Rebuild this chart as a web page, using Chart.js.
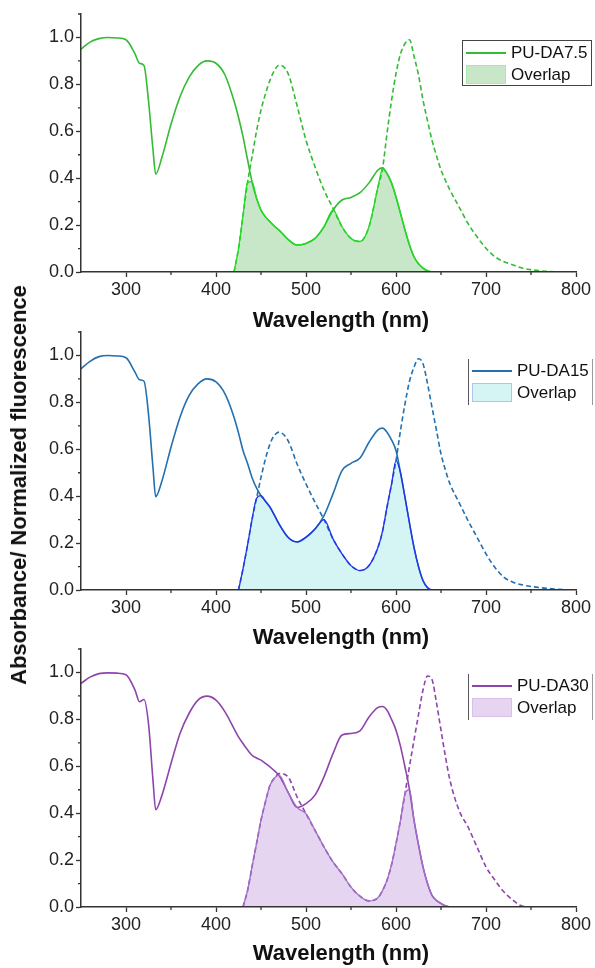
<!DOCTYPE html>
<html><head><meta charset="utf-8">
<script src="https://cdn.jsdelivr.net/npm/chart.js@4"></script>
<style>
body{margin:0;background:#fff;}
#wrap{position:relative;width:595px;height:968px;overflow:hidden;background:#fff;font-family:"Liberation Sans",Arial,sans-serif;}
canvas{position:absolute;left:0;}
.ytitle{position:absolute;left:19px;top:485px;transform:translate(-50%,-50%) rotate(-90deg);white-space:nowrap;font-weight:bold;font-size:22px;color:#111;}
.xtitle{position:absolute;left:341px;transform:translate(-50%,-50%);white-space:nowrap;font-weight:bold;font-size:22px;color:#111;}
.leg{position:absolute;left:462px;width:130px;height:46px;box-sizing:border-box;font-size:17px;color:#111;}
.leg .ln{position:absolute;left:3px;width:40px;height:0;border-top:2px solid;}
.leg .bx{position:absolute;left:3px;width:40px;height:19px;box-sizing:border-box;border:1px solid;}
.leg .t1{position:absolute;left:48px;top:2px;}
.leg .t2{position:absolute;left:48px;top:24px;}
</style></head>
<body><div id="wrap">
<canvas id="c1" width="595" height="332" style="top:0px"></canvas>
<canvas id="c2" width="595" height="332" style="top:318px"></canvas>
<canvas id="c3" width="595" height="332" style="top:635px"></canvas>
<div class="ytitle">Absorbance/ Normalized fluorescence</div>
</div>
<script>
const wavelengths = [250,260,270,280,290,300,310,315,320,325,330,333,340,350,360,370,380,390,400,410,
  420,425,430,435,440,445,450,455,460,465,470,480,490,500,510,520,530,540,550,560,570,580,585,590,595,
  600,605,610,615,620,625,630,635,640,645,650,655,660,670,680,690,700,710,720,730,740,750,760,770,780,790,800];

const absDA75 = [.95,.98,.995,1.0,.998,.99,.93,.89,.88,.73,.52,.417,.49,.63,.747,.83,.88,.90,.89,.84,
  .73,.66,.577,.48,.385,.315,.264,.235,.214,.195,.179,.139,.115,.122,.143,.193,.264,.307,.318,.338,.38,.435,.444,.42,.38,
  .32,.25,.179,.115,.065,.035,.017,.005,0,0,0,0,0,0,0,0,0,0,0,0,0,0,0,0,0,0,0];
const flDA75 = [null,null,null,null,null,null,null,null,null,null,null,null,null,null,null,null,null,null,null,null,
  0,.1,.24,.38,.49,.6,.69,.76,.818,.86,.882,.847,.71,.562,.449,.349,.272,.193,.143,.13,.193,.363,.44,.59,.73,
  .846,.93,.974,.99,.92,.84,.733,.645,.562,.495,.435,.39,.349,.278,.207,.15,.101,.065,.044,.03,.017,.01,.005,.002,.001,0,0];

const absDA15 = [.943,.975,.995,1.0,.998,.99,.929,.896,.89,.75,.52,.398,.466,.609,.737,.829,.879,.90,.887,.836,
  .737,.67,.595,.54,.48,.435,.402,.378,.353,.318,.282,.225,.205,.225,.26,.317,.41,.509,.54,.563,.63,.683,.69,.673,.64,
  .595,.50,.395,.285,.182,.10,.04,.01,0,0,0,0,0,0,0,0,0,0,0,0,0,0,0,0,0,0,0];
const flDA15 = [null,null,null,null,null,null,null,null,null,null,null,null,null,null,null,null,null,null,null,null,
  null,0,.09,.19,.3,.39,.48,.56,.623,.66,.673,.637,.538,.452,.374,.30,.218,.154,.104,.083,.104,.182,.25,.353,.45,
  .552,.68,.794,.89,.95,.986,.965,.88,.779,.68,.58,.51,.452,.374,.296,.225,.154,.096,.054,.033,.022,.015,.01,.006,.003,.001,0];

const absDA30 = [.953,.98,.995,.998,.997,.99,.925,.875,.885,.782,.54,.415,.477,.612,.74,.825,.882,.899,.882,.832,
  .761,.725,.697,.67,.647,.635,.626,.612,.597,.58,.562,.49,.425,.441,.477,.555,.654,.733,.74,.751,.81,.851,.855,.839,.80,
  .754,.685,.597,.50,.37,.265,.171,.10,.05,.028,.015,.005,0,0,0,0,0,0,0,0,0,0,0,0,0,0,0];
const flDA30 = [null,null,null,null,null,null,null,null,null,null,null,null,null,null,null,null,null,null,null,null,
  null,null,0,.07,.171,.27,.37,.45,.519,.55,.569,.555,.47,.398,.327,.256,.192,.142,.085,.046,.026,.04,.07,.114,.18,
  .27,.37,.484,.60,.711,.82,.925,.985,.97,.87,.754,.64,.54,.413,.341,.256,.171,.114,.064,.029,.004,0,null,null,null,null,null];

const seriesNames = ['PU-DA7.5','PU-DA15','PU-DA30'];
const overlapName = 'Overlap';
const xTitle = 'Wavelength (nm)';
const xTicks = [300,400,500,600,700,800];
const xMinorTicks = [350,450,550,650,750];
const yTicks = [0,0.2,0.4,0.6,0.8,1.0];
const yMinorTicks = [0.1,0.3,0.5,0.7,0.9,1.1];

const FONT = '"Liberation Sans", Arial, sans-serif';

const minorTicks = {
  id:'minorTicks',
  afterDraw(chart){
    const ctx = chart.ctx, xs = chart.scales.x, ys = chart.scales.y, a = chart.chartArea;
    ctx.save(); ctx.strokeStyle='#333'; ctx.lineWidth=1.3; ctx.beginPath();
    xMinorTicks.forEach(v=>{const p=xs.getPixelForValue(v); ctx.moveTo(p,a.bottom); ctx.lineTo(p,a.bottom+3);});
    yMinorTicks.forEach(v=>{const p=ys.getPixelForValue(v); ctx.moveTo(a.left,p); ctx.lineTo(a.left-3,p);});
    ctx.stroke(); ctx.restore();
  }
};

function pts(arr){ return wavelengths.map((x,i)=>({x:x, y:arr[i]})); }

function makeChart(id, abs, fl, color, fillColor, edgeColor){
  const overlap = abs.map((a,i)=> fl[i]==null ? null : Math.min(a, fl[i]));
  return new Chart(document.getElementById(id), {
    type:'line',
    data:{ datasets:[
      {data:pts(overlap), borderColor:edgeColor, backgroundColor:fillColor, fill:'origin', borderWidth:1.3, order:0},
      {data:pts(fl), borderColor:color, borderDash:[5,3], borderWidth:1.6, fill:false, order:1},
      {data:pts(abs), borderColor:color, borderWidth:1.6, fill:false, order:2}
    ]},
    options:{
      responsive:false, animation:false, events:[],
      plugins:{legend:{display:false}, tooltip:{enabled:false}, filler:{drawTime:'beforeDatasetsDraw'}},
      elements:{point:{radius:0}, line:{cubicInterpolationMode:'monotone'}},
      layout:{padding:{top:14,right:19,left:0,bottom:0}},
      scales:{
        x:{type:'linear', min:250, max:800,
          afterBuildTicks:s=>{s.ticks = xTicks.map(v=>({value:v}));},
          afterFit:s=>{s.height=60;},
          grid:{drawOnChartArea:false, drawTicks:true, tickLength:5, tickColor:'#333', tickWidth:1.3},
          border:{color:'#333', width:1.5, z:1},
          ticks:{font:{size:18, family:FONT}, color:'#222', padding:2, maxRotation:0, autoSkip:false}
        },
        y:{type:'linear', min:0, max:1.1,
          afterBuildTicks:s=>{s.ticks = yTicks.map(v=>({value:v}));},
          afterFit:s=>{s.width=81;},
          grid:{drawOnChartArea:false, drawTicks:true, tickLength:5, tickColor:'#333', tickWidth:1.3},
          border:{color:'#333', width:1.5, z:1},
          ticks:{font:{size:18, family:FONT}, color:'#222', padding:2, callback:v=>Number(v).toFixed(1)}
        }
      }
    },
    plugins:[minorTicks]
  });
}

makeChart('c1', absDA75, flDA75, '#33BB33', 'rgba(200,230,200,1)', '#22DD22');
makeChart('c2', absDA15, flDA15, '#2370B0', 'rgba(212,245,243,1)', '#2233EE');
makeChart('c3', absDA30, flDA30, '#8E44AD', 'rgba(230,213,240,1)', '#A070C8');

const wrap = document.getElementById('wrap');
// x-axis titles
[320, 637, 953].forEach(y=>{
  const t = document.createElement('div');
  t.className='xtitle'; t.style.top=y+'px'; t.textContent=xTitle;
  wrap.appendChild(t);
});
// legends
const legends = [
  {top:40, name:seriesNames[0], color:'#33BB33', fill:'rgb(200,230,200)', edge:'#A8E8A8', full:true},
  {top:359, name:seriesNames[1], color:'#2370B0', fill:'rgb(212,245,243)', edge:'#A8C8F0', full:false},
  {top:674, name:seriesNames[2], color:'#8E44AD', fill:'rgb(230,213,240)', edge:'#D8C0E8', full:false}
];
legends.forEach((L,i)=>{
  const d = document.createElement('div');
  d.className='leg';
  d.style.top = L.top+'px';
  if(L.full){ d.style.border='1px solid #444'; }
  else { d.style.left='468px'; d.style.width='125px'; d.style.borderLeft='1px solid #555'; d.style.borderRight='1px solid #999'; }
  d.innerHTML = '<div class="ln" style="top:11px;border-color:'+L.color+'"></div>'+
    '<div class="t1">'+L.name+'</div>'+
    '<div class="bx" style="top:24px;background:'+L.fill+';border-color:'+L.edge+'"></div>'+
    '<div class="t2">'+overlapName+'</div>';
  wrap.appendChild(d);
});
</script>
</body></html>
